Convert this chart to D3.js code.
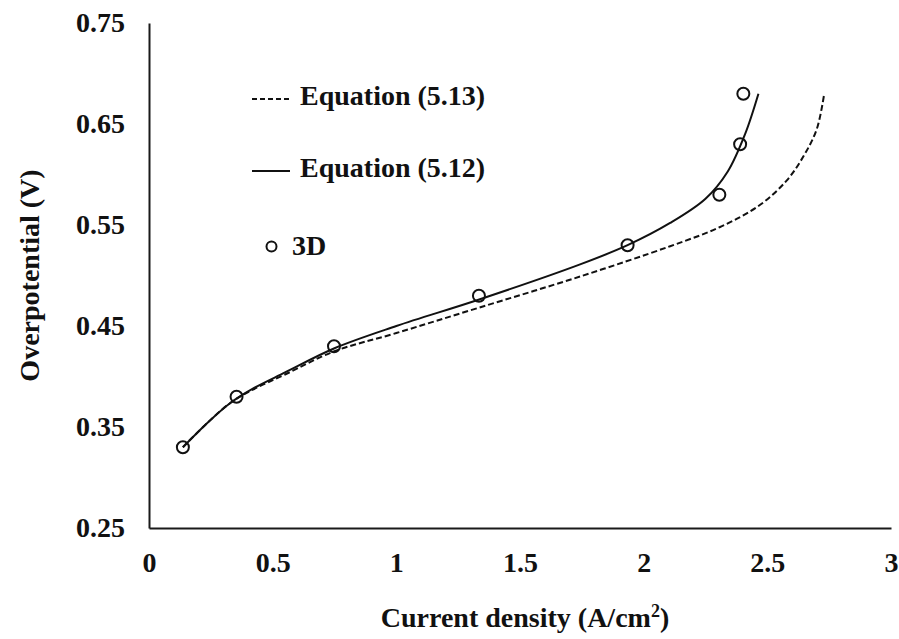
<!DOCTYPE html>
<html>
<head>
<meta charset="utf-8">
<script src="https://cdn.jsdelivr.net/npm/d3@7"></script>
<style>
  body { margin: 0; background: #fff; }
  svg text { font-family: "Liberation Serif", "Times New Roman", serif; font-weight: bold; fill: #111; }
</style>
</head>
<body>
<svg id="chart" width="899" height="639"></svg>
<script>
// Equation (5.12) - solid line
const eq512X = [0.137, 0.24, 0.33, 0.42, 0.55, 0.75, 1.0, 1.332, 1.743, 1.935, 2.107, 2.25, 2.34, 2.41, 2.464];
const eq512Y = [0.330, 0.355, 0.374, 0.388, 0.404, 0.428, 0.450, 0.476, 0.511, 0.530, 0.552, 0.576, 0.603, 0.640, 0.680];

// Equation (5.13) - dashed line
const eq513X = [0.137, 0.24, 0.33, 0.42, 0.55, 0.75, 1.0, 1.332, 1.743, 2.107, 2.309, 2.471, 2.578, 2.646, 2.70, 2.730];
const eq513Y = [0.330, 0.355, 0.374, 0.387, 0.402, 0.425, 0.443, 0.468, 0.499, 0.529, 0.548, 0.570, 0.594, 0.618, 0.645, 0.680];

// 3D simulation points
const pts3dX = [0.137, 0.354, 0.748, 1.334, 1.935, 2.306, 2.39, 2.403];
const pts3dY = [0.33, 0.38, 0.43, 0.48, 0.53, 0.58, 0.63, 0.68];

const xTicks = [0, 0.5, 1, 1.5, 2, 2.5, 3];
const yTicks = [0.25, 0.35, 0.45, 0.55, 0.65, 0.75];

const svg = d3.select("#chart");

const x = d3.scaleLinear().domain([0, 3]).range([149, 891]);
const y = d3.scaleLinear().domain([0.25, 0.75]).range([528, 23]);

// 坐标轴
const xAxis = svg.append("g")
    .attr("transform", `translate(0,${y(0.25)})`)
    .call(d3.axisBottom(x).tickValues(xTicks).tickSize(0).tickPadding(24).tickFormat(d3.format("~g")));
const yAxis = svg.append("g")
    .attr("transform", `translate(${x(0)},0)`)
    .call(d3.axisLeft(y).tickValues(yTicks).tickSize(0).tickPadding(24).tickFormat(d3.format(".2f")));

[xAxis, yAxis].forEach(ax => {
    ax.select(".domain").attr("stroke", "#1a1a1a").attr("stroke-width", 2);
    ax.selectAll("text")
        .style("font-size", "28px")
        .style("font-family", "'Liberation Serif', 'Times New Roman', serif")
        .style("font-weight", "bold")
        .attr("fill", "#111");
});

// 曲线
const line = d3.line()
    .x(d => x(d[0]))
    .y(d => y(d[1]))
    .curve(d3.curveCatmullRom.alpha(0.5));

svg.append("path")
    .datum(d3.zip(eq513X, eq513Y))
    .attr("d", line)
    .attr("fill", "none")
    .attr("stroke", "#111")
    .attr("stroke-width", 2)
    .attr("stroke-dasharray", "6,3");

svg.append("path")
    .datum(d3.zip(eq512X, eq512Y))
    .attr("d", line)
    .attr("fill", "none")
    .attr("stroke", "#111")
    .attr("stroke-width", 2);

svg.append("g")
    .selectAll("circle")
    .data(d3.zip(pts3dX, pts3dY))
    .join("circle")
    .attr("cx", d => x(d[0]))
    .attr("cy", d => y(d[1]))
    .attr("r", 6)
    .attr("fill", "none")
    .attr("stroke", "#111")
    .attr("stroke-width", 2);

// 图例
const legend = svg.append("g");
legend.append("line")
    .attr("x1", 252).attr("x2", 290).attr("y1", 99).attr("y2", 99)
    .attr("stroke", "#111").attr("stroke-width", 2).attr("stroke-dasharray", "5,3");
legend.append("text").attr("x", 300).attr("y", 105).style("font-size", "28px").text("Equation (5.13)");

legend.append("line")
    .attr("x1", 252).attr("x2", 290).attr("y1", 171).attr("y2", 171)
    .attr("stroke", "#111").attr("stroke-width", 2);
legend.append("text").attr("x", 300).attr("y", 177).style("font-size", "28px").text("Equation (5.12)");

legend.append("circle")
    .attr("cx", 271.5).attr("cy", 246.5).attr("r", 5)
    .attr("fill", "#fff").attr("stroke", "#111").attr("stroke-width", 2);
legend.append("text").attr("x", 292).attr("y", 255).style("font-size", "28px").text("3D");

// 轴标题
const xTitle = svg.append("text")
    .attr("x", 525).attr("y", 627)
    .attr("text-anchor", "middle")
    .style("font-size", "28px");
xTitle.append("tspan").text("Current density (A/cm");
xTitle.append("tspan").attr("dy", -10).style("font-size", "18px").text("2");
xTitle.append("tspan").attr("dy", 10).text(")");

svg.append("text")
    .attr("transform", `translate(39,${(y(0.25) + y(0.75)) / 2}) rotate(-90)`)
    .attr("text-anchor", "middle")
    .style("font-size", "28px")
    .text("Overpotential (V)");
</script>
</body>
</html>
